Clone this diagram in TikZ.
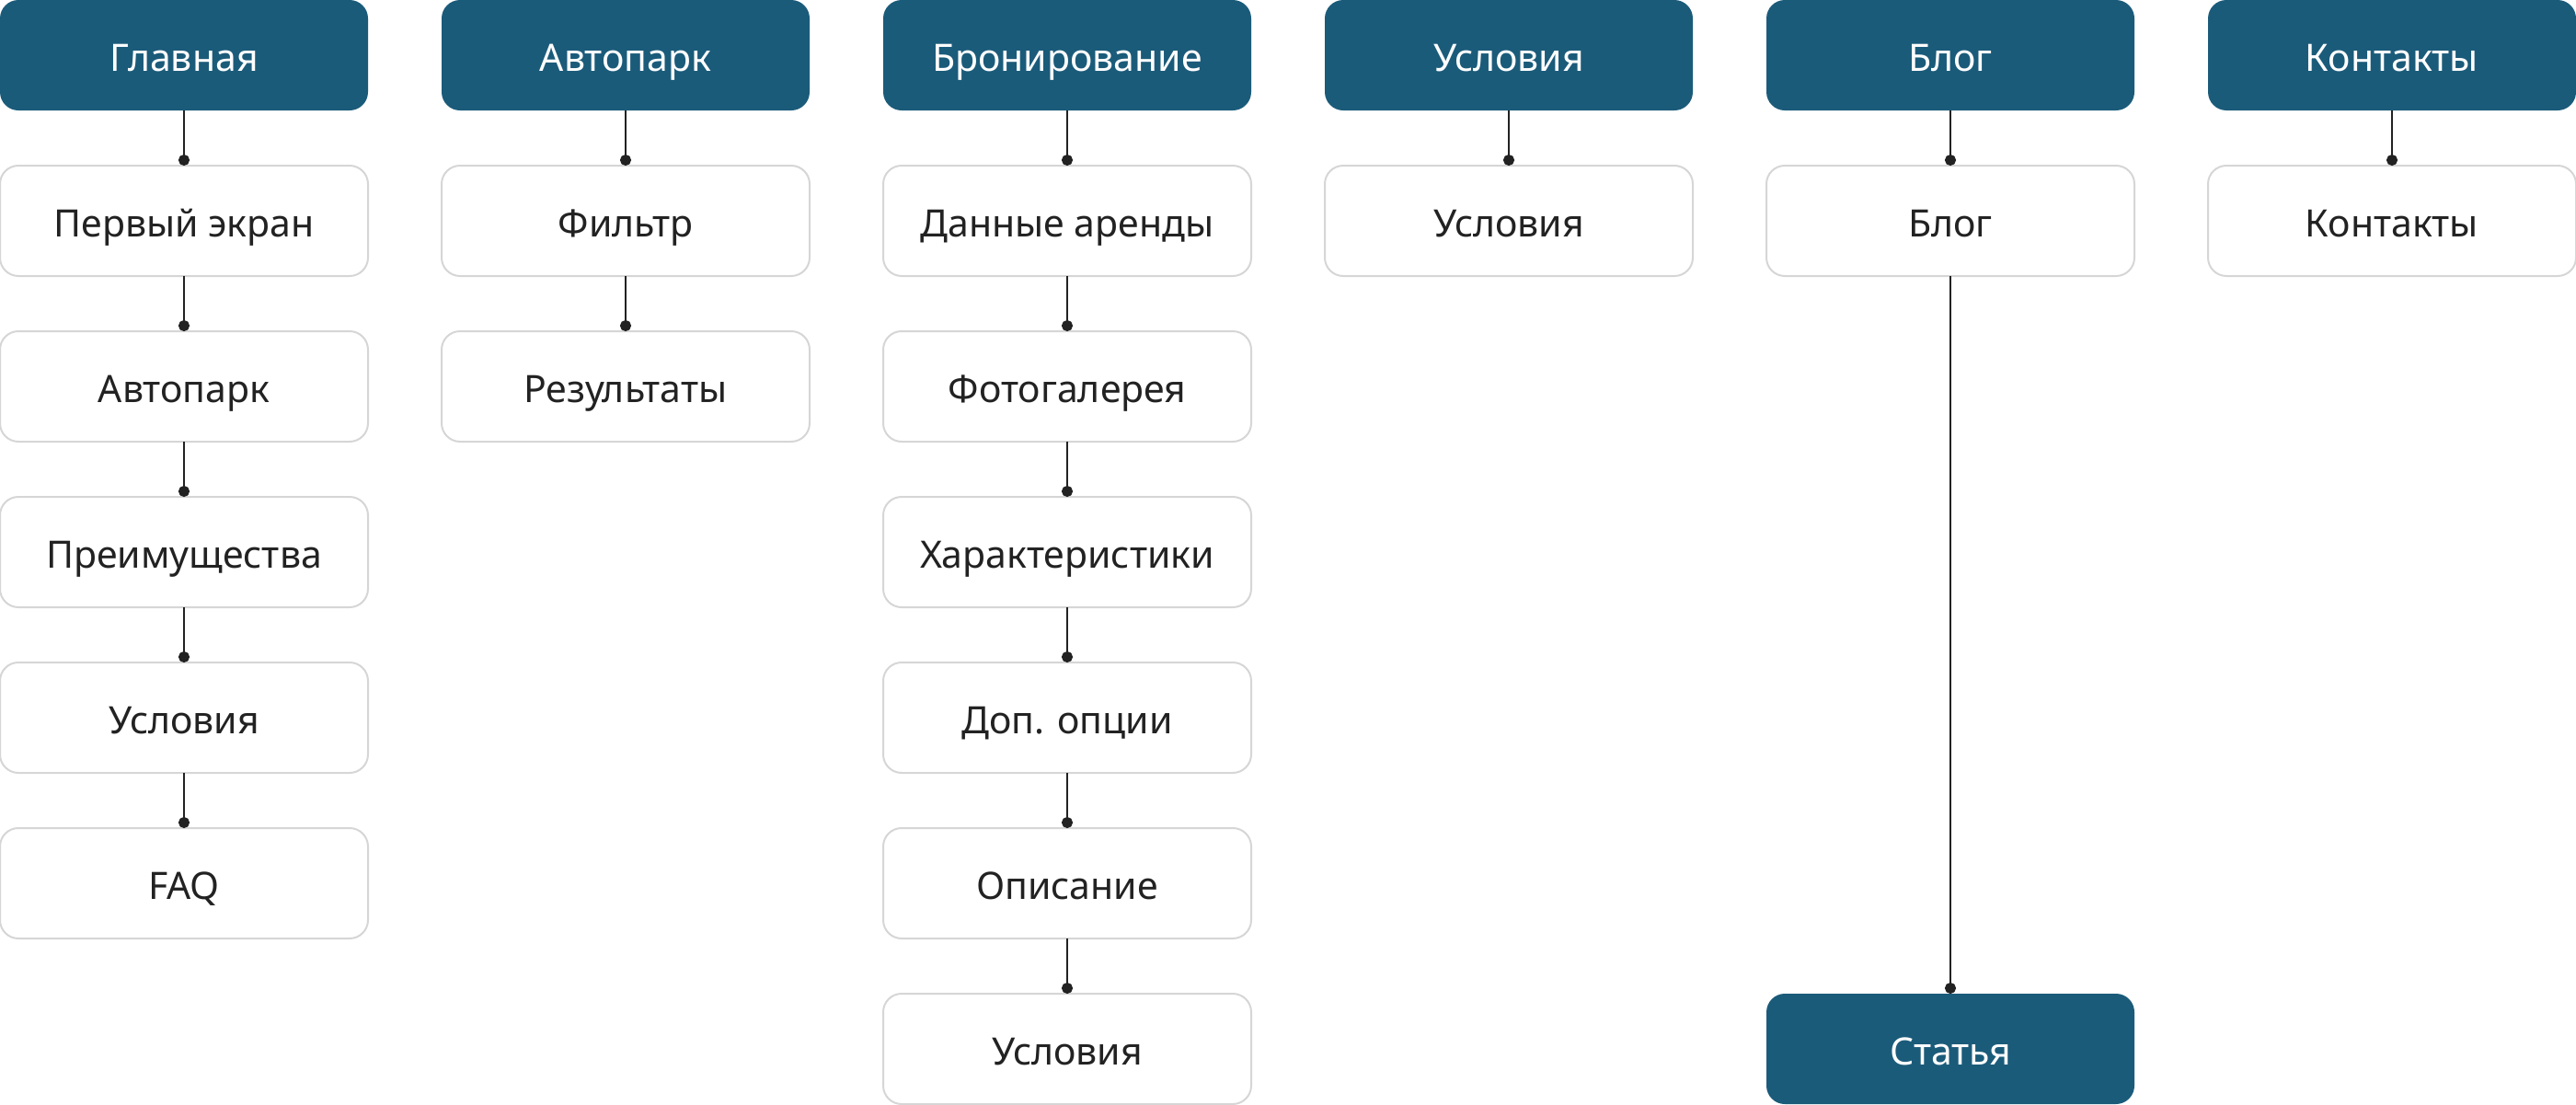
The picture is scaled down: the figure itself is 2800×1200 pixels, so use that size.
\documentclass[tikz,border=0pt]{standalone}
\usepackage{fontspec}
\setmainfont{Noto Sans}
\usetikzlibrary{arrows.meta}
\definecolor{headblue}{HTML}{1B5B7A}
\definecolor{boxline}{HTML}{D6D6D6}
\definecolor{ink}{HTML}{222222}
\tikzset{
  basebox/.style={rounded corners=20pt, minimum width=400pt, minimum height=120pt,
    inner sep=0pt, outer sep=0pt, text height=40pt, text depth=6pt,
    font=\fontsize{41}{50}\selectfont, anchor=center},
  headbox/.style={basebox, fill=headblue, text=white},
  itembox/.style={basebox, fill=white, draw=boxline, line width=2pt, text=ink},
  conn/.style={draw=ink, line width=2.5pt, -{Circle[length=12pt,width=12pt]}}
}
\begin{document}
\begin{tikzpicture}[x=1pt,y=1pt]
\useasboundingbox (0,0) rectangle (2800,-1200);
% column 1
\node[headbox] (h1) at (200,-60) {Главная};
\node[itembox] (a1) at (200,-240) {Первый экран};
\node[itembox] (a2) at (200,-420) {Автопарк};
\node[itembox] (a3) at (200,-600) {Преимущества};
\node[itembox] (a4) at (200,-780) {Условия};
\node[itembox] (a5) at (200,-960) {FAQ};
% column 2
\node[headbox] (h2) at (680,-60) {Автопарк};
\node[itembox] (b1) at (680,-240) {Фильтр};
\node[itembox] (b2) at (680,-420) {Результаты};
% column 3
\node[headbox] (h3) at (1160,-60) {Бронирование};
\node[itembox] (c1) at (1160,-240) {Данные аренды};
\node[itembox] (c2) at (1160,-420) {Фотогалерея};
\node[itembox] (c3) at (1160,-600) {Характеристики};
\node[itembox] (c4) at (1160,-780) {Доп. опции};
\node[itembox] (c5) at (1160,-960) {Описание};
\node[itembox] (c6) at (1160,-1140) {Условия};
% column 4
\node[headbox] (h4) at (1640,-60) {Условия};
\node[itembox] (d1) at (1640,-240) {Условия};
% column 5
\node[headbox] (h5) at (2120,-60) {Блог};
\node[itembox] (e1) at (2120,-240) {Блог};
\node[headbox] (e2) at (2120,-1140) {Статья};
% column 6
\node[headbox] (h6) at (2600,-60) {Контакты};
\node[itembox] (f1) at (2600,-240) {Контакты};
% connectors
\draw[conn] (h1.south) -- (a1.north);
\draw[conn] (a1.south) -- (a2.north);
\draw[conn] (a2.south) -- (a3.north);
\draw[conn] (a3.south) -- (a4.north);
\draw[conn] (a4.south) -- (a5.north);
\draw[conn] (h2.south) -- (b1.north);
\draw[conn] (b1.south) -- (b2.north);
\draw[conn] (h3.south) -- (c1.north);
\draw[conn] (c1.south) -- (c2.north);
\draw[conn] (c2.south) -- (c3.north);
\draw[conn] (c3.south) -- (c4.north);
\draw[conn] (c4.south) -- (c5.north);
\draw[conn] (c5.south) -- (c6.north);
\draw[conn] (h4.south) -- (d1.north);
\draw[conn] (h5.south) -- (e1.north);
\draw[conn] (e1.south) -- (e2.north);
\draw[conn] (h6.south) -- (f1.north);
\end{tikzpicture}
\end{document}
